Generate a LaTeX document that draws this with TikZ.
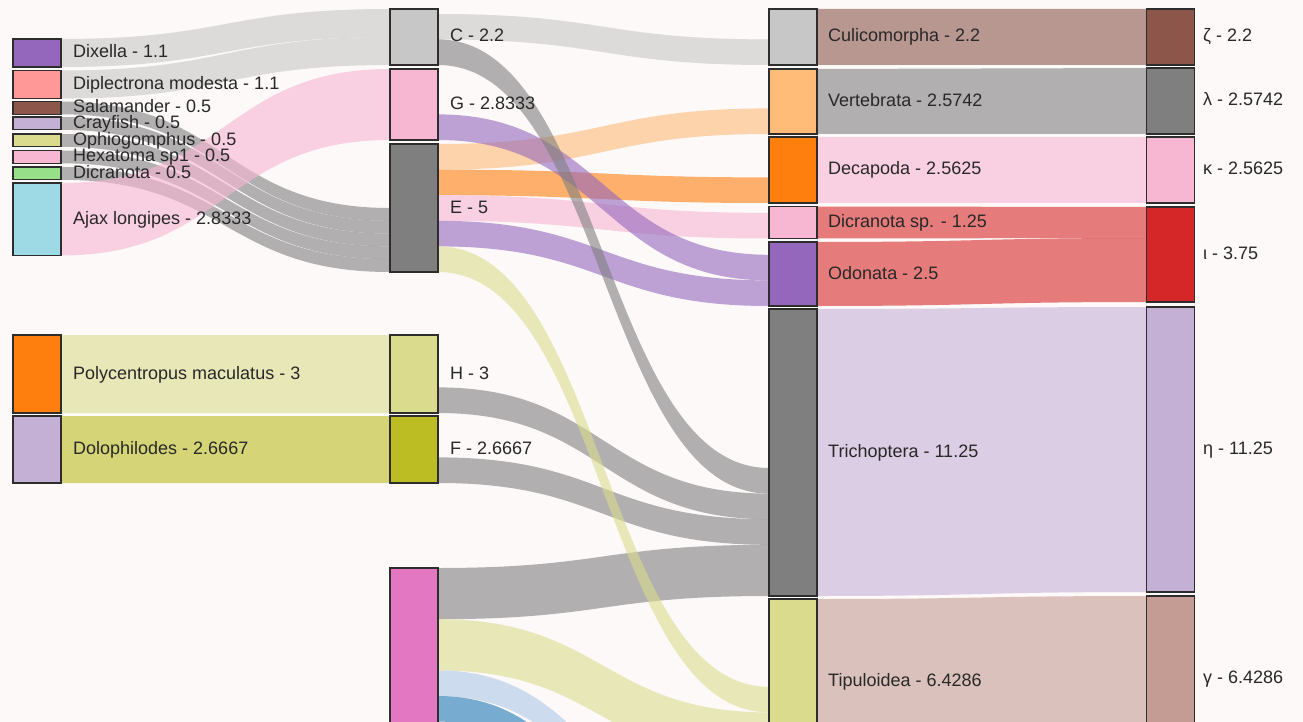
\documentclass[tikz,border=0pt]{standalone}
\usepackage{fontspec}
\setmainfont{Liberation Sans}
\pgfdeclarelayer{back}
\pgfdeclarelayer{links}
\pgfsetlayers{back,links,main}
\definecolor{bg}{RGB}{252,249,248}
\definecolor{nborder}{RGB}{45,45,45}
\definecolor{txt}{RGB}{40,40,40}
\definecolor{cPurple}{HTML}{9467BD}
\definecolor{cSalmon}{HTML}{FF9896}
\definecolor{cBrown}{HTML}{8C564B}
\definecolor{cLav}{HTML}{C5B0D5}
\definecolor{cOlive}{HTML}{DBDB8D}
\definecolor{cPink}{HTML}{F7B6D2}
\definecolor{cGreen}{HTML}{98DF8A}
\definecolor{cCyan}{HTML}{9EDAE5}
\definecolor{cOrange}{HTML}{FF7F0E}
\definecolor{cLGray}{HTML}{C7C7C7}
\definecolor{cGray}{HTML}{7F7F7F}
\definecolor{cYel}{HTML}{BCBD22}
\definecolor{cMag}{HTML}{E377C2}
\definecolor{cLOrange}{HTML}{FFBB78}
\definecolor{cRed}{HTML}{D62728}
\definecolor{cRose}{HTML}{C49C94}
\definecolor{cLBlue}{HTML}{AEC7E8}
\definecolor{cBlue}{HTML}{1F77B4}
\tikzset{
  nb/.style={draw=nborder, line width=1.3pt, inner sep=0pt, outer sep=0pt,
    minimum width=48pt, anchor=north west},
  lbl/.style={anchor=base west, inner sep=0pt, text=txt,
    font=\fontsize{18}{20}\selectfont},
  band/.style={fill=#1, fill opacity=0.6, draw=none},
}
% \sk{src anchor}{src top}{src bottom}{dst anchor}{dst top}{dst bottom}{colour}
\newcommand{\sk}[7]{%
  \path[band=#7] (#1 |- 0,#2) .. controls +(165,0) and +(-165,0) .. (#4 |- 0,#5)
    -- (#4 |- 0,#6) .. controls +(-165,0) and +(165,0) .. (#1 |- 0,#3) -- cycle;}
\newcommand{\lab}[4]{\node[lbl] (#1) at (#2,#3+5) {#4};}
\begin{document}
\begin{tikzpicture}[x=1pt,y=-1pt]
\useasboundingbox (0,0) rectangle (1303,722);
\begin{pgfonlayer}{back}
  \fill[bg] (0,0) rectangle (1303,722);
\end{pgfonlayer}

% ---------- column 1 ----------
\node[nb, fill=cPurple, minimum height=28pt] (Dixella) at (13,39) {};
\node[nb, fill=cSalmon, minimum height=28pt] (Diplectrona) at (13,70.5) {};
\node[nb, fill=cBrown, minimum height=12.8pt] (Salamander) at (13,101.5) {};
\node[nb, fill=cLav, minimum height=12.8pt] (Crayfish) at (13,117) {};
\node[nb, fill=cOlive, minimum height=12.8pt] (Ophio) at (13,134) {};
\node[nb, fill=cPink, minimum height=12.8pt] (Hexatoma) at (13,150.5) {};
\node[nb, fill=cGreen, minimum height=12.8pt] (DicranotaL) at (13,167) {};
\node[nb, fill=cCyan, minimum height=72.5pt] (Ajax) at (13,183) {};
\node[nb, fill=cOrange, minimum height=78pt] (Polycentropus) at (13,335) {};
\node[nb, fill=cLav, minimum height=67pt] (Dolophilodes) at (13,416) {};

% ---------- column 2 ----------
\node[nb, fill=cLGray, minimum height=56pt] (C) at (390,9) {};
\node[nb, fill=cPink, minimum height=71pt] (G) at (390,69) {};
\node[nb, fill=cGray, minimum height=128pt] (E) at (390,144) {};
\node[nb, fill=cOlive, minimum height=78pt] (H) at (390,335) {};
\node[nb, fill=cYel, minimum height=67pt] (F) at (390,416) {};
\node[nb, fill=cMag, minimum height=182pt] (Pk) at (390,568) {};

% ---------- column 3 ----------
\node[nb, fill=cLGray, minimum height=56pt] (Culi) at (769,9) {};
\node[nb, fill=cLOrange, minimum height=65pt] (Vert) at (769,69) {};
\node[nb, fill=cOrange, minimum height=66pt] (Deca) at (769,137) {};
\node[nb, fill=cPink, minimum height=32pt] (Dsp) at (769,206.5) {};
\node[nb, fill=cPurple, minimum height=64pt] (Odo) at (769,242) {};
\node[nb, fill=cGray, minimum height=287pt] (Tri) at (769,309) {};
\node[nb, fill=cOlive, minimum height=165pt] (Tip) at (769,599) {};
\coordinate (LBlueT) at (769,849);
\coordinate (BlueT) at (769,905);

% ---------- column 4 ----------
\node[nb, fill=cBrown, minimum height=56pt] (Zeta) at (1146.5,9) {};
\node[nb, fill=cGray, minimum height=66pt] (Lambda) at (1146.5,68) {};
\node[nb, fill=cPink, minimum height=66pt] (Kappa) at (1146.5,137) {};
\node[nb, fill=cRed, minimum height=95pt] (Iota) at (1146.5,207) {};
\node[nb, fill=cLav, minimum height=285pt] (Eta) at (1146.5,307) {};
\node[nb, fill=cRose, minimum height=165pt] (Gamma) at (1146.5,596) {};

% ---------- links ----------
\begin{pgfonlayer}{links}
  % column 1 -> column 2
  \sk{Dixella.east}{39}{67}{C.west}{9}{37}{cLGray}
  \sk{Diplectrona.east}{70.5}{98.5}{C.west}{37}{65}{cLGray}
  \sk{Salamander.east}{101.5}{114.3}{E.west}{208}{220.8}{cGray}
  \sk{Crayfish.east}{117}{129.8}{E.west}{220.8}{233.6}{cGray}
  \sk{Ophio.east}{134}{146.8}{E.west}{233.6}{246.4}{cGray}
  \sk{Hexatoma.east}{150.5}{163.3}{E.west}{246.4}{259.2}{cGray}
  \sk{DicranotaL.east}{167}{179.8}{E.west}{259.2}{272}{cGray}
  \sk{Ajax.east}{183}{255.5}{G.west}{69}{140}{cPink}
  \sk{Polycentropus.east}{335}{413}{H.west}{335}{413}{cOlive}
  \sk{Dolophilodes.east}{416}{483}{F.west}{416}{483}{cYel}
  % column 2 -> column 3
  \sk{C.east}{14}{39.4}{Culi.west}{39.4}{65}{cLGray}
  \sk{E.east}{144}{169.6}{Vert.west}{108.4}{134}{cLOrange}
  \sk{E.east}{169.6}{195.2}{Deca.west}{177.4}{203}{cOrange}
  \sk{E.east}{195.2}{220.8}{Dsp.west}{212.9}{238.5}{cPink}
  \sk{G.east}{114.4}{140}{Odo.west}{254.8}{280.4}{cPurple}
  \sk{E.east}{220.8}{246.4}{Odo.west}{280.4}{306}{cPurple}
  \sk{H.east}{387.4}{413}{Tri.west}{493.6}{519.2}{cGray}
  \sk{F.east}{457.4}{483}{Tri.west}{519.2}{544.8}{cGray}
  \sk{Pk.east}{568}{619.2}{Tri.west}{544.8}{596}{cGray}
  \sk{Pk.east}{619.2}{670.4}{Tip.west}{712.4}{763.6}{cOlive}
  \sk{Pk.east}{670.4}{696}{LBlueT}{849}{874.6}{cLBlue}
  \sk{Pk.east}{696}{721.6}{BlueT}{905}{930.6}{cBlue}
  \sk{E.east}{246.4}{272}{Tip.west}{686.8}{712.4}{cOlive}
  \sk{C.east}{39.4}{65}{Tri.west}{468}{493.6}{cGray}
  % column 3 -> column 4
  \sk{Culi.east}{9}{65}{Zeta.west}{9}{65}{cBrown}
  \sk{Vert.east}{69}{134}{Lambda.west}{68}{134}{cGray}
  \sk{Deca.east}{137}{203}{Kappa.west}{137}{203}{cPink}
  \sk{Dsp.east}{206.5}{238.5}{Iota.west}{207}{238}{cRed}
  \sk{Odo.east}{242}{306}{Iota.west}{238}{302}{cRed}
  \sk{Tri.east}{309}{596}{Eta.west}{307}{592}{cLav}
  \sk{Tip.east}{599}{764}{Gamma.west}{596}{761}{cRose}
\end{pgfonlayer}

% ---------- labels ----------
\lab{tDixella}{73}{53}{Dixella - 1.1}
\lab{tDiplectrona}{73}{84.5}{Diplectrona modesta - 1.1}
\lab{tSalamander}{73}{108}{Salamander - 0.5}
\lab{tCrayfish}{73}{123.5}{Crayfish - 0.5}
\lab{tOphio}{73}{140.5}{Ophiogomphus - 0.5}
\lab{tHexatoma}{73}{157}{Hexatoma sp1 - 0.5}
\lab{tDicranotaL}{73}{173.5}{Dicranota - 0.5}
\lab{tAjax}{73}{219}{Ajax longipes - 2.8333}
\lab{tPolycentropus}{73}{374}{Polycentropus maculatus - 3}
\lab{tDolophilodes}{73}{449.5}{Dolophilodes - 2.6667}

\lab{tC}{450}{37}{C - 2.2}
\lab{tG}{450}{104.5}{G - 2.8333}
\lab{tE}{450}{208}{E - 5}
\lab{tH}{450}{374}{H - 3}
\lab{tF}{450}{449.5}{F - 2.6667}

\lab{tCuli}{828}{37}{Culicomorpha - 2.2}
\lab{tVert}{828}{101.5}{Vertebrata - 2.5742}
\lab{tDeca}{828}{170}{Decapoda - 2.5625}
\lab{tDsp}{828}{222.5}{Dicranota sp. - 1.25}
\lab{tOdo}{828}{274}{Odonata - 2.5}
\lab{tTri}{828}{452.5}{Trichoptera - 11.25}
\lab{tTip}{828}{681.5}{Tipuloidea - 6.4286}

\lab{tZeta}{1203}{37}{ζ - 2.2}
\lab{tLambda}{1203}{101}{λ - 2.5742}
\lab{tKappa}{1203}{170}{κ - 2.5625}
\lab{tIota}{1203}{254.5}{ι - 3.75}
\lab{tEta}{1203}{449.5}{η - 11.25}
\lab{tGamma}{1203}{678.5}{γ - 6.4286}
\end{tikzpicture}
\end{document}
